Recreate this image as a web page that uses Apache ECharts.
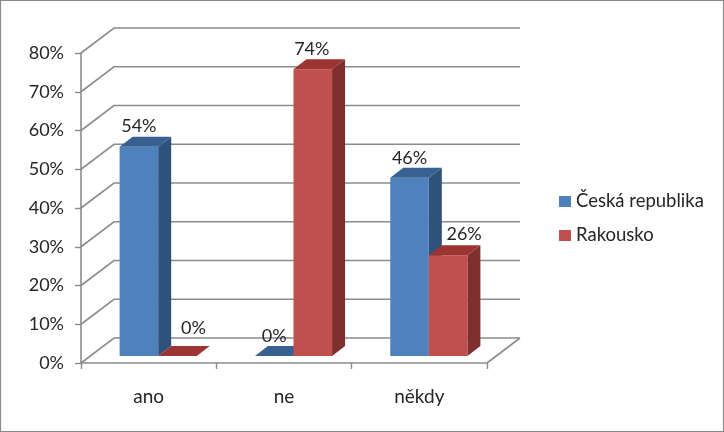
<!DOCTYPE html>
<html><head><meta charset="utf-8">
<style>html,body{margin:0;padding:0;background:#fff}#c{width:724px;height:432px}</style>
<script src="https://cdn.jsdelivr.net/npm/echarts@6/dist/echarts.min.js"></script>
</head><body><div id="c"></div>
<script>
const categories = ['ano', 'ne', 'někdy'];
const ceskaRepublika = [54, 0, 46];
const rakousko = [0, 74, 26];
const yTicks = [0, 10, 20, 30, 40, 50, 60, 70, 80];

const FONT = 'Lato';
const TEXT = '#262626';
const LINE = '#8c8c8c';
const WALL = { dx: 33, dy: -25 };
const BAR = { dx: 13, dy: -10, share: 0.285 };
const BLUE = { front: '#4f81bd', side: '#2f527d', top: '#386192' };
const RED = { front: '#c0504d', side: '#7f2f2d', top: '#9c3532' };

// label placement per category: [shift right, lift above bar top]
const BLUE_LABELS = [[0, 21], [0, 20], [0, 20]];
const RED_LABELS = [[16, 28], [-1, 20], [16, 21]];

function barRenderer(tone, sign, labels) {
  return function (params, api) {
    const i = api.value(0), v = api.value(1);
    const base = api.coord([i, 0]);
    const top = api.coord([i, v]);
    const w = api.size([1, 0])[0] * BAR.share;
    const x0 = base[0] + (sign < 0 ? -w : 0);
    const x1 = x0 + w;
    const kids = [];
    if (v > 0) {
      kids.push({ type: 'polygon', shape: { points: [[x1, base[1]], [x1 + BAR.dx, base[1] + BAR.dy], [x1 + BAR.dx, top[1] + BAR.dy], [x1, top[1]]] }, style: { fill: tone.side } });
      kids.push({ type: 'rect', shape: { x: x0, y: top[1], width: w, height: base[1] - top[1] }, style: { fill: tone.front } });
    }
    kids.push({ type: 'polygon', shape: { points: [[x0, top[1]], [x0 + BAR.dx, top[1] + BAR.dy], [x1 + BAR.dx, top[1] + BAR.dy], [x1, top[1]]] }, style: { fill: tone.top } });
    kids.push({ type: 'text', z2: 10, style: { text: v + '%', x: (x0 + x1) / 2 + labels[i][0], y: top[1] - labels[i][1], align: 'center', verticalAlign: 'middle', fill: TEXT, font: '18px ' + FONT } });
    return { type: 'group', children: kids };
  };
}

function wallRenderer(params, api) {
  const t = api.value(1);
  const cs = params.coordSys;
  const y = api.coord([0, t])[1];
  const x = cs.x;
  const lineStyle = { stroke: LINE, lineWidth: 1.6, fill: null };
  const kids = [
    { type: 'polyline', shape: { points: [[x, y], [x + WALL.dx, y + WALL.dy], [x + cs.width + WALL.dx, y + WALL.dy]] }, style: lineStyle }
  ];
  if (t === 0) {
    kids.push({ type: 'line', shape: { x1: x + cs.width, y1: y, x2: x + cs.width + WALL.dx, y2: y + WALL.dy }, style: lineStyle });
  }
  return { type: 'group', children: kids };
}

const chart = echarts.init(document.getElementById('c'), null, { renderer: 'canvas' });
chart.setOption({
  animation: false,
  backgroundColor: '#fff',
  graphic: [{ type: 'rect', silent: true, z: -1, shape: { x: 0.5, y: 0.5, width: 723, height: 431 }, style: { fill: null, stroke: '#8a8a8a', lineWidth: 1.2 } }],
  grid: [
    { left: 81, top: 53, width: 406, height: 310 },
    { left: 90.5, top: 46, width: 406, height: 310 }
  ],
  xAxis: [
    { type: 'category', gridIndex: 0, data: categories,
      axisLine: { lineStyle: { color: LINE, width: 1.6 } },
      axisTick: { show: true, length: 6, lineStyle: { color: LINE, width: 1.4 } },
      axisLabel: { color: TEXT, fontFamily: FONT, fontSize: 19, margin: 24 } },
    { type: 'category', gridIndex: 1, data: categories, show: false }
  ],
  yAxis: [
    { type: 'value', gridIndex: 0, min: 0, max: 80, interval: 10,
      axisLine: { show: true, lineStyle: { color: LINE, width: 1.6 } },
      axisTick: { show: true, length: 6, lineStyle: { color: LINE, width: 1.4 } },
      splitLine: { show: false },
      axisLabel: { color: TEXT, fontFamily: FONT, fontSize: 18, margin: 17, formatter: '{value}%' } },
    { type: 'value', gridIndex: 1, min: 0, max: 80, interval: 10, show: false, splitLine: { show: false } }
  ],
  legend: {
    orient: 'vertical', left: 554, top: 187, itemWidth: 12, itemHeight: 11, itemGap: 15,
    icon: 'rect', selectedMode: false,
    textStyle: { color: TEXT, fontFamily: FONT, fontSize: 18.5 },
    data: ['Česká republika', 'Rakousko']
  },
  series: [
    { type: 'custom', silent: true, xAxisIndex: 0, yAxisIndex: 0, z: 1, renderItem: wallRenderer,
      data: yTicks.map(t => [0, t]) },
    { type: 'custom', silent: true, name: 'Česká republika', xAxisIndex: 1, yAxisIndex: 1, z: 3,
      itemStyle: { color: BLUE.front }, renderItem: barRenderer(BLUE, -1, BLUE_LABELS),
      data: ceskaRepublika.map((v, i) => [i, v]) },
    { type: 'custom', silent: true, name: 'Rakousko', xAxisIndex: 1, yAxisIndex: 1, z: 4,
      itemStyle: { color: RED.front }, renderItem: barRenderer(RED, 1, RED_LABELS),
      data: rakousko.map((v, i) => [i, v]) }
  ]
});
</script></body></html>
